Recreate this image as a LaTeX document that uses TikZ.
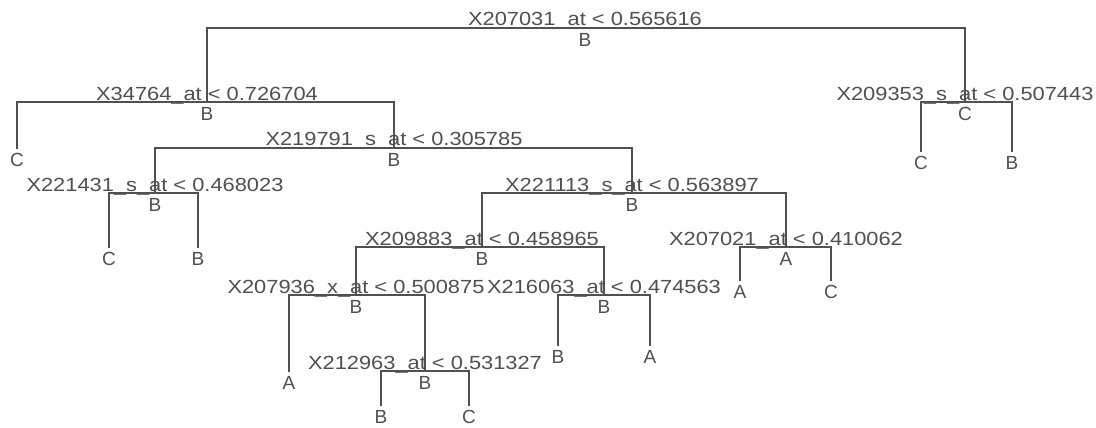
\documentclass[tikz,border=0pt]{standalone}
\usepackage{fontspec}
\setmainfont{Liberation Sans}
\usetikzlibrary{positioning}
\definecolor{treegray}{RGB}{80,80,80}
\newcommand{\wide}[1]{\scalebox{1.15}[1]{#1}}

\begin{document}
\begin{tikzpicture}[x=1pt, y=-1pt,
  edge/.style={draw=treegray, line width=1.3pt},
  split/.style={inner sep=0pt, anchor=base, text=treegray, font=\fontsize{19pt}{19pt}\selectfont},
  cls/.style={inner sep=0pt, text=treegray, font=\fontsize{19pt}{19pt}\selectfont}]
  \useasboundingbox[fill=white] (0,0) rectangle (1096,428);
  % split points
  \coordinate (n1) at (585,28);  \coordinate (n2) at (207,102); \coordinate (n3) at (965,102);
  \coordinate (n4) at (394,148); \coordinate (n5) at (155,193); \coordinate (n6) at (632,193);
  \coordinate (n7) at (482,247); \coordinate (n8) at (786,247); \coordinate (n9) at (356,295);
  \coordinate (n10) at (604,295); \coordinate (n11) at (425,371);
  % leaf ends
  \coordinate (f1) at (17,149);
  \coordinate (f2) at (921,152); \coordinate (f3) at (1012,152);
  \coordinate (f4) at (109,248); \coordinate (f5) at (198,248);
  \coordinate (f6) at (740,281); \coordinate (f7) at (831,281);
  \coordinate (f8) at (289,372);
  \coordinate (f9) at (558,346); \coordinate (f10) at (650,346);
  \coordinate (f11) at (381,406); \coordinate (f12) at (469,406);
  % branches
  \draw[edge] (n2) |- (n1) -| (n3);
  \draw[edge] (f1) |- (n2) -| (n4);
  \draw[edge] (f2) |- (n3) -| (f3);
  \draw[edge] (n5) |- (n4) -| (n6);
  \draw[edge] (f4) |- (n5) -| (f5);
  \draw[edge] (n7) |- (n6) -| (n8);
  \draw[edge] (n9) |- (n7) -| (n10);
  \draw[edge] (f6) |- (n8) -| (f7);
  \draw[edge] (f8) |- (n9) -| (n11);
  \draw[edge] (f9) |- (n10) -| (f10);
  \draw[edge] (f11) |- (n11) -| (f12);
  % split rules and fitted classes
  \node[above=2pt of n1, split](s1){\wide{X207031\_at < 0.565616}};   \node[below=5pt of n1, cls](c1){B};
  \node[above=2pt of n2, split](s2){\wide{X34764\_at < 0.726704}};    \node[below=5pt of n2, cls](c2){B};
  \node[above=2pt of n3, split](s3){\wide{X209353\_s\_at < 0.507443}}; \node[below=5pt of n3, cls](c3){C};
  \node[above=2pt of n4, split](s4){\wide{X219791\_s\_at < 0.305785}}; \node[below=5pt of n4, cls](c4){B};
  \node[above=2pt of n5, split](s5){\wide{X221431\_s\_at < 0.468023}}; \node[below=5pt of n5, cls](c5){B};
  \node[above=2pt of n6, split](s6){\wide{X221113\_s\_at < 0.563897}}; \node[below=5pt of n6, cls](c6){B};
  \node[above=2pt of n7, split](s7){\wide{X209883\_at < 0.458965}};   \node[below=5pt of n7, cls](c7){B};
  \node[above=2pt of n8, split](s8){\wide{X207021\_at < 0.410062}};   \node[below=5pt of n8, cls](c8){A};
  \node[above=2pt of n9, split](s9){\wide{X207936\_x\_at < 0.500875}}; \node[below=5pt of n9, cls](c9){B};
  \node[above=2pt of n10, split](s10){\wide{X216063\_at < 0.474563}}; \node[below=5pt of n10, cls](c10){B};
  \node[above=2pt of n11, split](s11){\wide{X212963\_at < 0.531327}}; \node[below=5pt of n11, cls](c11){B};
  % leaves
  \node[below=4pt of f1, cls](l1){C};
  \node[below=4pt of f2, cls](l2){C};  \node[below=4pt of f3, cls](l3){B};
  \node[below=4pt of f4, cls](l4){C};  \node[below=4pt of f5, cls](l5){B};
  \node[below=4pt of f6, cls](l6){A};  \node[below=4pt of f7, cls](l7){C};
  \node[below=4pt of f8, cls](l8){A};
  \node[below=4pt of f9, cls](l9){B};  \node[below=4pt of f10, cls](l10){A};
  \node[below=4pt of f11, cls](l11){B}; \node[below=4pt of f12, cls](l12){C};
\end{tikzpicture}
\end{document}
